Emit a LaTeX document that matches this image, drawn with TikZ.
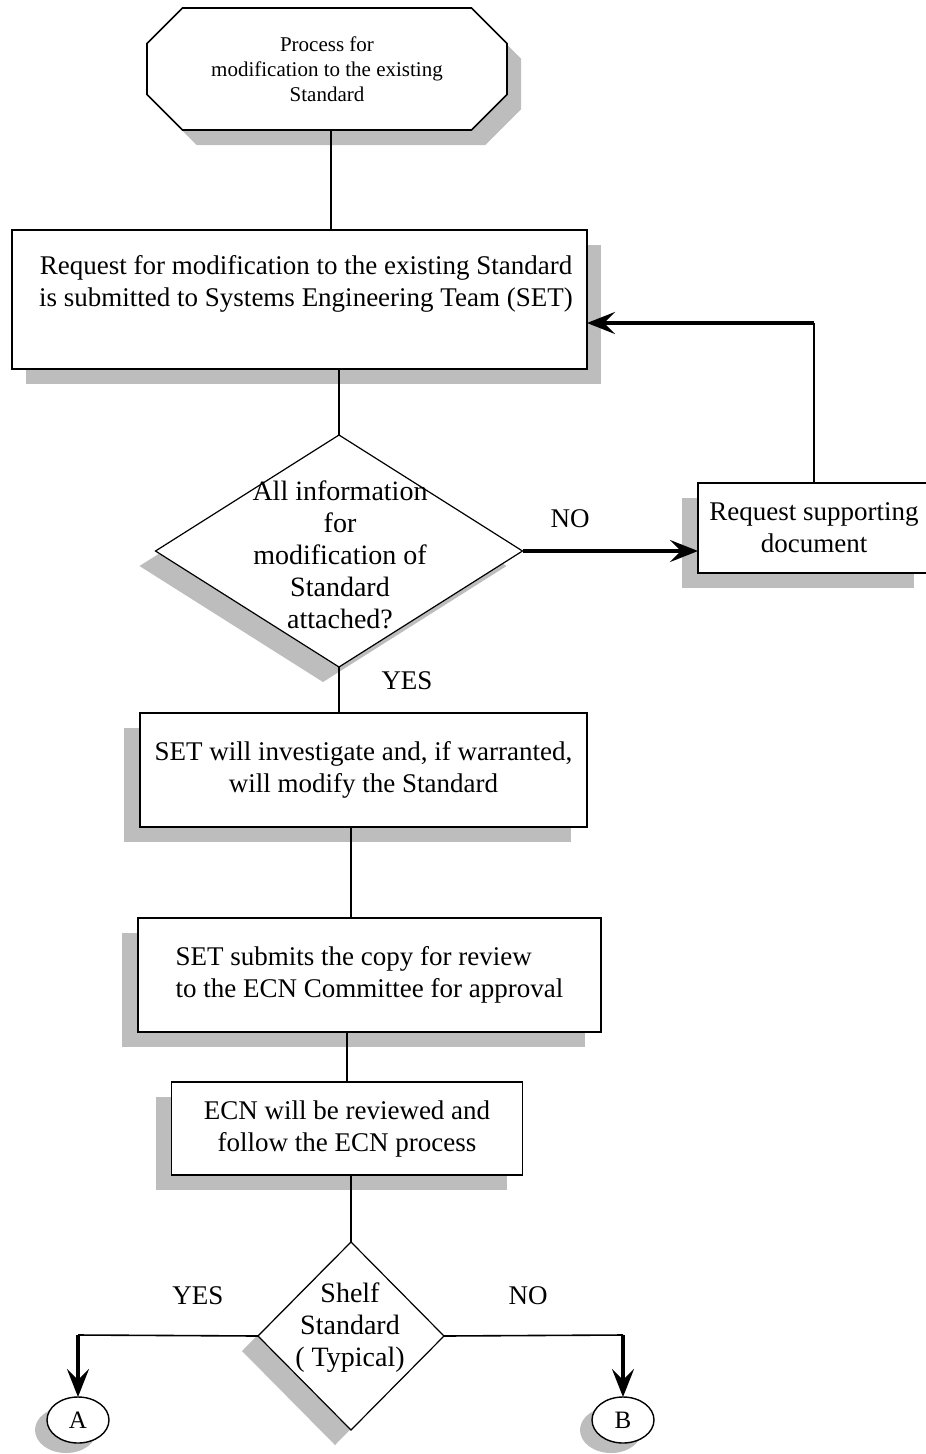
\documentclass[tikz,border=0pt]{standalone}
\usepackage{fontspec}
\setmainfont{Liberation Serif}
\usetikzlibrary{arrows.meta,positioning,calc,shapes.geometric,shapes.misc,shadows}
\definecolor{halftone}{HTML}{BDBDBD}

\tikzset{
  box/.style={draw,line width=1.6pt,fill=white,inner sep=0pt,outer sep=0pt,align=center},
  shadowleft/.style={drop shadow={shadow xshift=-16pt,shadow yshift=-15pt,fill=halftone,opacity=1}},
  shadowright/.style={drop shadow={shadow xshift=14pt,shadow yshift=-15pt,fill=halftone,opacity=1}},
  decision/.style={diamond,draw,line width=1.2pt,fill=white,inner sep=0pt,outer sep=0pt},
  connector/.style={ellipse,draw,line width=1.4pt,fill=white,inner sep=0pt,outer sep=0pt,
    minimum width=62pt,minimum height=46pt,font=\fontsize{25}{28}\selectfont},
  link/.style={line width=1.6pt},
  flow/.style={line width=3.5pt,-{Stealth[length=28pt,width=22pt,inset=11pt]}},
}

\begin{document}
\begin{tikzpicture}[x=1pt,y=-1pt,font=\fontsize{27}{32}\selectfont]
\useasboundingbox (0,0) rectangle (926,1454);
% boxes
\node[chamfered rectangle,draw,line width=1.6pt,fill=white,inner sep=0pt,outer sep=0pt,
  minimum width=360pt,minimum height=122pt,chamfered rectangle xsep=37pt,
  align=center,font=\fontsize{21}{25}\selectfont,shadowright] (start) at (327,69)
  {Process for\\modification to the existing\\Standard};
\node[box,shadowright,minimum width=575pt,minimum height=139pt] (req) at (299.5,299.5) {};
\node[align=center] (reqtxt) at (306,284) {Request for modification to the existing Standard\\is submitted to Systems Engineering Team (SET)};
\node[decision,shadowleft,minimum width=367pt,minimum height=232pt] (dia1) at (339,551) {};
\node[align=center,font=\fontsize{28}{32}\selectfont] (dia1txt) at (340,555) {All information\\for\\modification of\\Standard\\attached?};
\node[box,shadowleft,minimum width=232pt,minimum height=90pt] (reqdoc) at (814,528) {Request supporting\\document};
\node[box,shadowleft,minimum width=447pt,minimum height=114pt] (inv) at (363.5,770) {SET will investigate and, if warranted,\\will modify the Standard};
\node[box,shadowleft,minimum width=463pt,minimum height=114pt,align=left] (sub) at (369.5,975) {SET submits the copy for review\\to the ECN Committee for approval};
\node[box,shadowleft,minimum width=351pt,minimum height=93pt] (ecn) at (347,1128.5) {ECN will be reviewed and\\follow the ECN process};
\node[decision,shadowleft,minimum width=186pt,minimum height=188pt] (dia2) at (351,1336) {};
\node[align=center,font=\fontsize{28}{32}\selectfont] (dia2txt) at (350,1328) {Shelf\\Standard\\( Typical)};
\node[connector,drop shadow={shadow xshift=-12pt,shadow yshift=-10pt,fill=halftone,opacity=1}] (cA) at (78,1420) {A};
\node[connector,drop shadow={shadow xshift=-12pt,shadow yshift=-10pt,fill=halftone,opacity=1}] (cB) at (623,1420) {B};
% labels
\node (no1) at (570,519) {NO};
\node (yes1) at (407,681) {YES};
\node (yes2) at (198,1296) {YES};
\node (no2) at (528,1296) {NO};
% connectors
\coordinate (fb) at (814,323);
\coordinate (ya) at (78,1335);
\coordinate (nb) at (623,1335);
\draw[link] (start.south -| 331,0) -- (req.north -| 331,0);
\draw[link] (dia1.north |- req.south) -- (dia1.north);
\draw[link] (dia1.south) -- (inv.north -| dia1.south);
\draw[link] (inv.south -| dia2.north) -- (sub.north -| dia2.north);
\draw[link] (ecn.north |- sub.south) -- (ecn.north);
\draw[link] (dia2.north |- ecn.south) -- (dia2.north);
\draw[flow] (dia1.east) -- (reqdoc.west |- dia1.east);
\draw[link] (reqdoc.north) -- (fb);
\draw[flow] (fb) -- (fb -| req.east);
\draw[link] (dia2.west) -- (ya);
\draw[flow] (ya) -- (cA.north);
\draw[link] (dia2.east) -- (nb);
\draw[flow] (nb) -- (cB.north);
\end{tikzpicture}
\end{document}
